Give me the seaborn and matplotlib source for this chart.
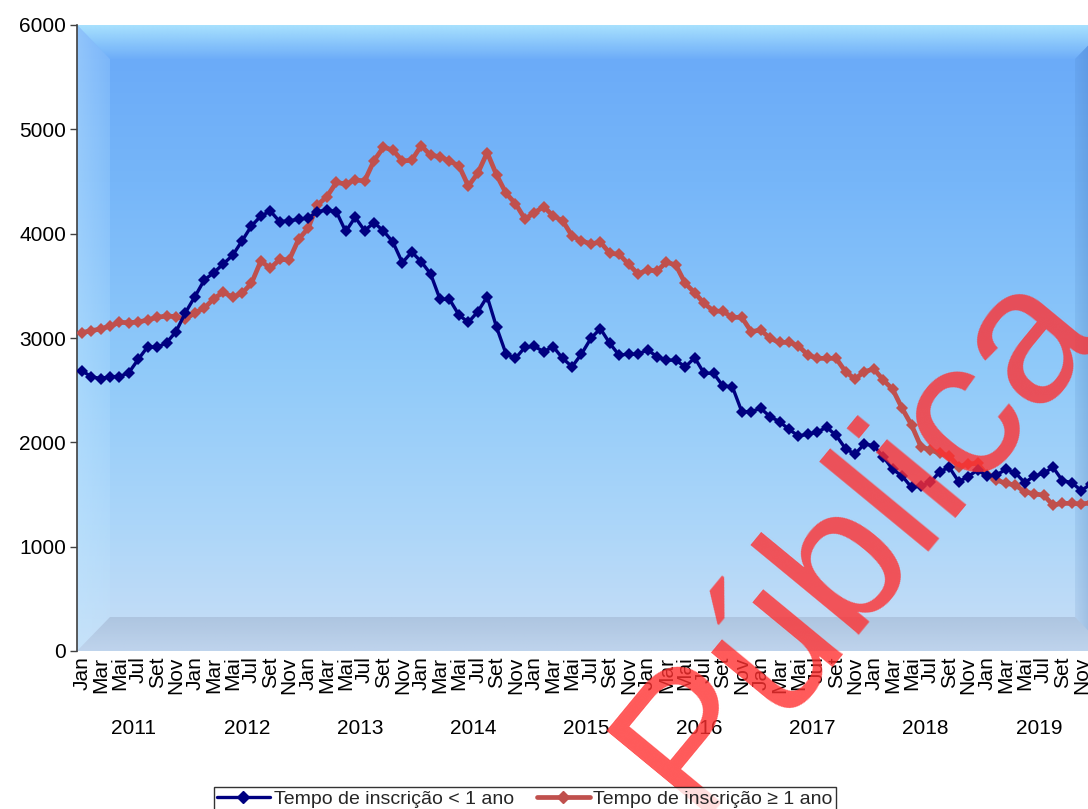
import numpy as np
import pandas as pd
import matplotlib
matplotlib.use("Agg")
import matplotlib.pyplot as plt
import seaborn as sns
from matplotlib.patches import Polygon
from matplotlib.lines import Line2D
import matplotlib.transforms as mtransforms

# ---------------- data ----------------
years = ["2011", "2012", "2013", "2014", "2015", "2016", "2017", "2018", "2019"]
month_names = ["Jan", "Fev", "Mar", "Abr", "Mai", "Jun", "Jul", "Ago", "Set", "Out", "Nov", "Dez"]

menos_1_ano = [
    2687, 2630, 2611, 2630, 2630, 2668, 2796, 2917, 2910, 2955, 3061, 3243,
    3396, 3556, 3626, 3709, 3792, 3930, 4074, 4169, 4217, 4115, 4124, 4137,
    4150, 4211, 4227, 4211, 4021, 4157, 4029, 4106, 4026, 3920, 3722, 3824,
    3732, 3614, 3371, 3371, 3221, 3150, 3252, 3396, 3102, 2847, 2805, 2911,
    2920, 2869, 2917, 2805, 2725, 2847, 2997, 3090, 2949, 2834, 2847, 2843,
    2888, 2821, 2786, 2789, 2722, 2811, 2662, 2662, 2540, 2533, 2294, 2294,
    2326, 2246, 2198, 2125, 2061, 2077, 2099, 2144, 2067, 1939, 1888, 1984,
    1968, 1862, 1741, 1677, 1569, 1582, 1617, 1719, 1761, 1623, 1671, 1735,
    1677, 1687, 1741, 1709, 1613, 1677, 1703, 1761, 1633, 1613, 1537, 1600,
]
mais_1_ano = [
    3051, 3070, 3086, 3115, 3150, 3147, 3153, 3173, 3198, 3211, 3205, 3179,
    3243, 3285, 3377, 3438, 3393, 3428, 3524, 3738, 3668, 3754, 3748, 3946,
    4051, 4275, 4355, 4491, 4476, 4515, 4505, 4700, 4828, 4802, 4697, 4703,
    4844, 4751, 4738, 4694, 4652, 4457, 4579, 4777, 4562, 4387, 4288, 4141,
    4200, 4259, 4169, 4124, 3978, 3933, 3901, 3920, 3812, 3802, 3706, 3614,
    3652, 3642, 3726, 3700, 3524, 3434, 3332, 3259, 3255, 3198, 3198, 3061,
    3077, 2997, 2958, 2958, 2926, 2837, 2805, 2805, 2805, 2677, 2607, 2677,
    2703, 2598, 2508, 2326, 2166, 1958, 1927, 1895, 1869, 1767, 1792, 1799,
    1687, 1639, 1607, 1591, 1527, 1505, 1495, 1399, 1415, 1415, 1409, 1420,
]
series_names = ["Tempo de inscrição < 1 ano", "Tempo de inscrição ≥ 1 ano"]
y_ticks = [0, 1000, 2000, 3000, 4000, 5000, 6000]
watermark = "Pública"

n = len(menos_1_ano)
idx = np.arange(n)
df = pd.DataFrame({
    "idx": np.concatenate([idx, idx]),
    "valor": menos_1_ano + mais_1_ano,
    "serie": [series_names[0]] * n + [series_names[1]] * n,
})

# ---------------- figure ----------------
sns.set_theme(style="white")
plt.rcParams["font.family"] = ["Liberation Sans", "DejaVu Sans"]

W, H = 1088, 809
fig = plt.figure(figsize=(W / 100, H / 100), dpi=100)
ax_l, ax_r, ax_t, ax_b = 77, 1108, 25, 651
ax = fig.add_axes([ax_l / W, 1 - ax_b / H, (ax_r - ax_l) / W, (ax_b - ax_t) / H])
px0, pstep = 81.7, 9.43   # pixel position of first month and month spacing


def hexrgb(h):
    h = h.lstrip("#")
    return np.array([int(h[i:i + 2], 16) for i in (0, 2, 4)]) / 255


# background gradient (top blue -> bottom light)
stops = [(0.0, hexrgb("#68a8f8")), (0.25, hexrgb("#76b6f9")), (0.55, hexrgb("#90cafa")),
         (0.8, hexrgb("#acd6f9")), (1.0, hexrgb("#c8def6"))]
g = np.linspace(0, 1, 300)
rows = np.zeros((300, 3))
for c in range(3):
    rows[:, c] = np.interp(g, [s[0] for s in stops], [s[1][c] for s in stops])
ax.imshow(rows[:, None, :], extent=[0, 1, 0, 1], transform=ax.transAxes,
          aspect="auto", zorder=0, interpolation="bilinear")

# bevels (gradient overlays clipped to trapezoids)
bx = 33 / (ax_r - ax_l)
by = 34 / (ax_b - ax_t)


def bevel(pts, color, a_out, a_in, orient):
    rgb = hexrgb(color)
    m = 100
    t = np.linspace(0, 1, m)
    alpha = a_out + (a_in - a_out) * t
    im = np.zeros((m, m, 4))
    im[..., :3] = rgb
    if orient == "top":
        im[..., 3] = alpha[:, None]
        ext = [0, 1, 1 - by, 1]
    elif orient == "bottom":
        im[..., 3] = alpha[::-1][:, None]
        ext = [0, 1, 0, by]
    elif orient == "left":
        im[..., 3] = alpha[None, :]
        ext = [0, bx, 0, 1]
    else:
        im[..., 3] = alpha[::-1][None, :]
        ext = [1 - bx, 1, 0, 1]
    art = ax.imshow(im, extent=ext, transform=ax.transAxes, aspect="auto",
                    zorder=1, interpolation="bilinear")
    poly = Polygon(pts, closed=True, transform=ax.transAxes, facecolor="none",
                   edgecolor="none")
    ax.add_patch(poly)
    art.set_clip_path(poly)


bevel([(0, 1), (1, 1), (1 - bx, 1 - by), (bx, 1 - by)], "#b4ecff", 0.85, 0.05, "top")
bevel([(0, 0), (0, 1), (bx, 1 - by), (bx, by)], "#c4e8ff", 0.45, 0.2, "left")
bevel([(0, 0), (1, 0), (1 - bx, by), (bx, by)], "#8c9cb8", 0.15, 0.35, "bottom")
bevel([(1, 0), (1, 1), (1 - bx, 1 - by), (1 - bx, by)], "#3868a8", 0.45, 0.1, "right")

# lines
palette = {series_names[0]: "#000080", series_names[1]: "#c0504d"}
sns.lineplot(data=df[df.serie == series_names[0]], x="idx", y="valor", ax=ax,
             color=palette[series_names[0]], linewidth=2.4, marker="D",
             markersize=6, markeredgewidth=0, legend=False, zorder=4)
sns.lineplot(data=df[df.serie == series_names[1]], x="idx", y="valor", ax=ax,
             color=palette[series_names[1]], linewidth=3.4, marker="D",
             markersize=6, markeredgewidth=0, legend=False, zorder=3)

ax.set_xlim((ax_l - px0) / pstep, (ax_r - px0) / pstep)
ax.set_ylim(0, 6000)
ax.set_xlabel("")
ax.set_ylabel("")

# y axis
ax.set_yticks(y_ticks)
ax.set_yticklabels([str(v) for v in y_ticks], fontsize=15, color="black")
ax.tick_params(axis="y", length=5, width=1, color="#404040", direction="out", pad=3, left=True)

# x axis: every second month
xt = [i for i in range(0, 107) if i % 2 == 0]
ax.set_xticks(xt)
ax.set_xticklabels([month_names[i % 12] for i in xt], rotation=90, fontsize=15,
                   color="black", va="top", ha="center")
ax.tick_params(axis="x", length=0, pad=4)

for s in ["top", "right", "bottom"]:
    ax.spines[s].set_visible(False)
ax.spines["left"].set_color("#404040")
ax.spines["left"].set_linewidth(1.2)

# year labels
trans = mtransforms.blended_transform_factory(ax.transData, fig.transFigure)
for k, yr in enumerate(years):
    ax.text(k * 12 + 5.5, 1 - 728 / H, yr, transform=trans, ha="center", va="center",
            fontsize=15, color="black")

# legend
handles = [
    Line2D([0], [0], color=palette[series_names[0]], lw=2.4, marker="D", markersize=6),
    Line2D([0], [0], color=palette[series_names[1]], lw=3.4, marker="D", markersize=6),
]
leg = fig.legend(handles, series_names, loc="upper center", ncol=2,
                 bbox_to_anchor=(525 / W, 1 - 787 / H), borderaxespad=0,
                 fontsize=14, frameon=True, fancybox=False, edgecolor="black",
                 handlelength=2.7, columnspacing=1.2, handletextpad=0.2, borderpad=0.15)
leg.get_frame().set_linewidth(1.0)
leg.set_zorder(6)

# watermark
fig.text(897 / W, 1 - 570 / H, watermark, rotation=50.5, fontsize=140,
         color="#ff3030", alpha=0.8, ha="center", va="baseline",
         rotation_mode="anchor", zorder=5)

fig.savefig("out.png", dpi=100)
